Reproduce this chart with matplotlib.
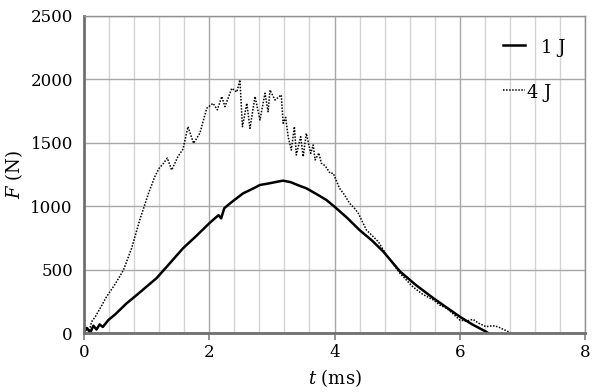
import matplotlib
matplotlib.use("Agg")
import matplotlib.pyplot as plt
from matplotlib.ticker import MultipleLocator

# 1 J impact: force (N) vs time (ms)
t_1j = [0.0, 0.05, 0.1, 0.15, 0.2, 0.25, 0.3, 0.39, 0.5, 0.68, 0.85, 1.0, 1.16,
        1.35, 1.58, 1.8, 2.0, 2.1, 2.15, 2.19, 2.24, 2.35, 2.54, 2.7, 2.81, 2.95,
        3.1, 3.18, 3.3, 3.45, 3.55, 3.7, 3.87, 4.0, 4.2, 4.4, 4.6, 4.78, 5.05,
        5.3, 5.58, 5.8, 6.0, 6.2, 6.42, 6.46]
f_1j = [10, 40, 5, 60, 30, 70, 50, 105, 150, 236, 305, 368, 435,
        540, 669, 770, 866, 910, 930, 905, 985, 1030, 1102, 1140, 1168, 1180,
        1195, 1202, 1190, 1160, 1142, 1100, 1050, 997, 910, 813, 730, 643, 485,
        380, 276, 200, 131, 70, 13, 0]

# 4 J impact
t_4j = [0.0, 0.04, 0.08, 0.12, 0.18, 0.25, 0.36, 0.5, 0.63, 0.76, 0.89, 1.03,
        1.13, 1.2, 1.27, 1.33, 1.4, 1.5, 1.58, 1.66, 1.75, 1.85, 1.96, 2.06,
        2.13, 2.2, 2.25, 2.36, 2.44, 2.49, 2.53, 2.6, 2.65, 2.73, 2.81, 2.89,
        2.94, 2.97, 3.05, 3.15, 3.18, 3.22, 3.26, 3.31, 3.36, 3.39, 3.46, 3.5,
        3.55, 3.62, 3.66, 3.69, 3.75, 3.79, 3.85, 3.93, 3.98, 4.08, 4.16, 4.24,
        4.31, 4.38, 4.51, 4.6, 4.7, 4.83, 4.93, 5.05, 5.25, 5.4, 5.58, 5.68,
        5.79, 5.9, 6.0, 6.1, 6.21, 6.3, 6.42, 6.52, 6.61, 6.7, 6.81]
f_4j = [20, 52, 10, 90, 131, 190, 288, 390, 498, 669, 892, 1102,
        1233, 1300, 1339, 1380, 1286, 1391, 1450, 1627, 1496, 1575, 1772, 1811,
        1760, 1864, 1785, 1929, 1900, 1995, 1627, 1811, 1614, 1864, 1680, 1890,
        1745, 1916, 1837, 1877, 1654, 1700, 1548, 1443, 1627, 1404, 1548, 1391,
        1575, 1417, 1483, 1365, 1420, 1339, 1320, 1260, 1260, 1142, 1090, 1024,
        990, 945, 813, 770, 721, 617, 551, 470, 367, 310, 262, 223,
        197, 150, 105, 95, 110, 80, 52, 60, 52, 30, 5]

plt.rcParams["font.family"] = "DejaVu Serif"
plt.rcParams["mathtext.fontset"] = "dejavuserif"

fig = plt.figure(figsize=(6.0, 3.92), dpi=100)
ax = fig.add_axes([0.14, 0.1497, 0.835, 0.81])

solid = dict(color="black", linewidth=1.8)
dotted = dict(color="black", linewidth=1.1, linestyle=(0, (1, 1)))

ax.plot(t_1j, f_1j, **solid)
ax.plot(t_4j, f_4j, **dotted)

ax.set_xlim(0, 8)
ax.set_ylim(0, 2500)
ax.xaxis.set_major_locator(MultipleLocator(2))
ax.xaxis.set_minor_locator(MultipleLocator(0.4))
ax.yaxis.set_major_locator(MultipleLocator(500))

ax.grid(which="minor", axis="x", color="#d4d4d4", linewidth=1.0)
ax.grid(which="major", axis="x", color="#a8a8a8", linewidth=1.0)
ax.grid(which="major", axis="y", color="#a8a8a8", linewidth=1.0)
ax.set_axisbelow(True)

ax.tick_params(axis="x", which="major", length=5, width=1.2, color="#808080",
               labelsize=12, pad=3)
ax.tick_params(axis="x", which="minor", length=0)
ax.tick_params(axis="y", length=0, labelsize=12, pad=8)

for side in ["top", "right"]:
    ax.spines[side].set_color("#909090")
    ax.spines[side].set_linewidth(1.0)
for side in ["left", "bottom"]:
    ax.spines[side].set_color("#707070")
    ax.spines[side].set_linewidth(2.0)

ax.set_xlabel("$t$ (ms)", fontsize=13, labelpad=4)
ax.set_ylabel("$F$ (N)", fontsize=13, labelpad=4)

# legend drawn by hand: the "4 J" label sits right against its sample line
ax.plot([0.836, 0.880], [0.908, 0.908], transform=ax.transAxes, clip_on=False, **solid)
ax.text(0.912, 0.898, "1 J", transform=ax.transAxes, fontsize=13, va="center")
ax.plot([0.836, 0.880], [0.766, 0.766], transform=ax.transAxes, clip_on=False, **dotted)
ax.text(0.884, 0.756, "4 J", transform=ax.transAxes, fontsize=13, va="center")

fig.savefig("out.png", dpi=100)
